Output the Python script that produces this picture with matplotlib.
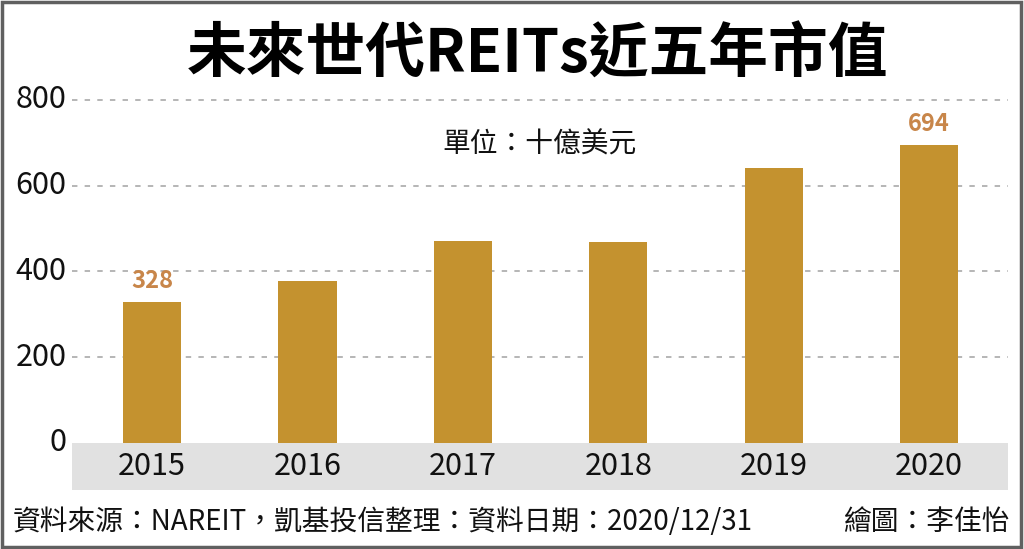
import matplotlib
matplotlib.use('Agg')
import matplotlib.pyplot as plt
from matplotlib.patches import Rectangle

plt.rcParams['font.family'] = ['Noto Sans CJK TC', 'DejaVu Sans']

# datos del grafico
years = ['2015', '2016', '2017', '2018', '2019', '2020']
values = [328, 378, 470, 468, 642, 694]
labeled = {0: '328', 5: '694'}
yticks = [0, 200, 400, 600, 800]

bar_color = '#C4922F'
label_color = '#C8864A'

fig = plt.figure(figsize=(10.24, 5.49), dpi=100)
ax = fig.add_axes([0.0703, 0.1075, 0.9137, 0.734])

x = range(len(years))
ax.bar(x, values, width=0.375, color=bar_color, zorder=3)

# banda gris del eje x
ax.axhspan(-110, 0, color='#E1E1E1', zorder=1, lw=0)
for i, y in enumerate(years):
    ax.text(i, -55, y, ha='center', va='center', fontsize=22, color='#111111')

# lineas de cuadricula punteadas
for t in yticks[1:]:
    ax.axhline(t, color='#B0B0B0', lw=1.3, ls=(0, (3, 4)), zorder=2)
for t in yticks:
    ax.text(-0.55, t, str(t), ha='right', va='center', fontsize=22, color='#111111')

for i, txt in labeled.items():
    ax.text(i, values[i] + 22, txt, ha='center', va='bottom', fontsize=17,
            fontweight='bold', color=label_color)

ax.text(2.49, 695, '單位：十億美元', ha='center', va='center', fontsize=20, color='#111111')

ax.set_xlim(-0.515, 5.505)
ax.set_ylim(-110, 830)
ax.axis('off')

fig.text(0.525, 0.898, '未來世代REITs近五年市值', ha='center', va='center',
         fontsize=43, fontweight='bold', color='#000000')
fig.text(0.012, 0.05, '資料來源：NAREIT，凱基投信整理：資料日期：2020/12/31',
         ha='left', va='center', fontsize=20, color='#111111')
fig.text(0.986, 0.05, '繪圖：李佳怡', ha='right', va='center', fontsize=20, color='#111111')

# marco alrededor
fig.patches.append(Rectangle((0.002, 0.004), 0.995, 0.992, transform=fig.transFigure,
                             fill=False, edgecolor='#606060', lw=2.5))

plt.savefig('out.png', dpi=100)
